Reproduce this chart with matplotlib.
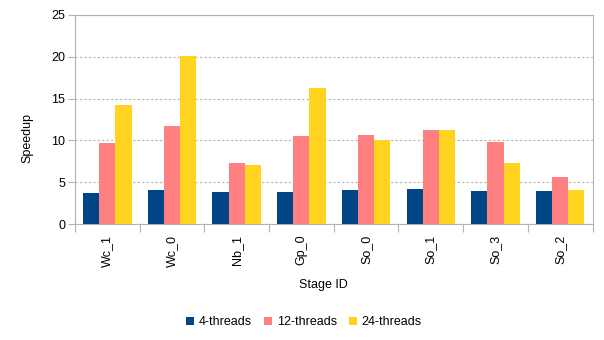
import matplotlib
matplotlib.use("Agg")
import matplotlib.pyplot as plt
import numpy as np

plt.rcParams['font.family'] = ['Liberation Sans', 'DejaVu Sans']

stages = ["Wc_1", "Wc_0", "Nb_1", "Gp_0", "So_0", "So_1", "So_3", "So_2"]
series_names = ["4-threads", "12-threads", "24-threads"]
threads4 = [3.70, 4.05, 3.82, 3.86, 4.09, 4.21, 4.01, 3.97]
threads12 = [9.74, 11.72, 7.27, 10.57, 10.65, 11.29, 9.78, 5.68]
threads24 = [14.19, 20.10, 7.03, 16.26, 10.06, 11.29, 7.31, 4.09]
colors = ["#004586", "#ff8080", "#ffd320"]
yticks = [0, 5, 10, 15, 20, 25]

fig = plt.figure(figsize=(6.04, 3.4), dpi=100)
L, R, T, B = 75, 592.5, 14.7, 224.3
ax = fig.add_axes([L / 604, 1 - B / 340, (R - L) / 604, (B - T) / 340])

x = np.arange(len(stages))
w = 0.25
for i, (vals, c, name) in enumerate(zip([threads4, threads12, threads24], colors, series_names)):
    ax.bar(x + (i - 1) * w, vals, width=w, color=c, label=name, zorder=3)

ax.set_xlim(-0.5, len(stages) - 0.5)
ax.set_ylim(0, 25)
ax.set_yticks(yticks)
ax.set_yticklabels([str(v) for v in yticks], fontsize=9)
ax.yaxis.grid(True, color="#b3b3b3", linestyle=(0, (2, 2)), linewidth=0.8, zorder=0)

ax.set_xticks(np.arange(len(stages) + 1) - 0.5)
ax.set_xticklabels([])
ax.set_xticks(x, minor=True)
ax.set_xticklabels(stages, minor=True, rotation=90, fontsize=9)
ax.tick_params(axis='x', which='minor', length=0, pad=7.5)
ax.tick_params(axis='x', which='major', length=6, color="#b3b3b3")
ax.tick_params(axis='y', length=5, color="#b3b3b3", pad=2)

for s in ax.spines.values():
    s.set_color("#b3b3b3")
    s.set_linewidth(0.8)

ax.set_xlabel("Stage ID", fontsize=9)
ax.set_ylabel("Speedup", fontsize=9)
ax.yaxis.set_label_coords(-0.081, 0.414)
ax.xaxis.set_label_coords(0.479, -0.262)

handles, labels = ax.get_legend_handles_labels()
fig.legend(handles, labels, loc='center', bbox_to_anchor=(304 / 604, 1 - 322 / 340),
           ncol=3, frameon=False, fontsize=9, handlelength=0.6, handleheight=0.6,
           handletextpad=0.4, columnspacing=1.0)

fig.savefig("out.png", dpi=100)
